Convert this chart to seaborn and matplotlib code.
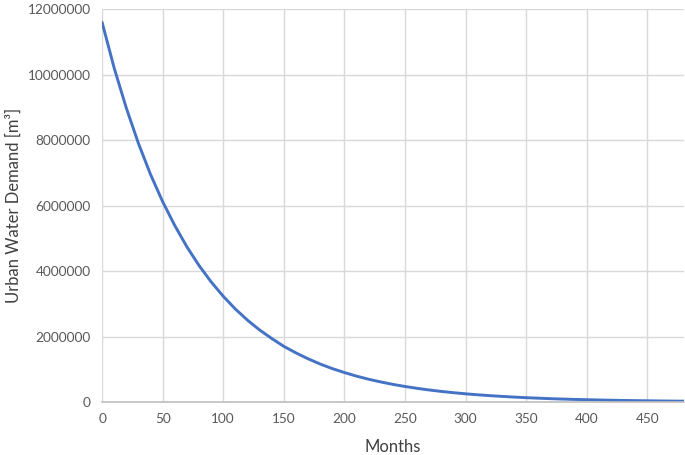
import matplotlib
matplotlib.use("Agg")
import matplotlib.pyplot as plt
import seaborn as sns
import pandas as pd

# values (every 10 months)
months = [0, 10, 20, 30, 40, 50, 60, 70, 80, 90,
          100, 110, 120, 130, 140, 150, 160, 170, 180, 190,
          200, 210, 220, 230, 240, 250, 260, 270, 280, 290,
          300, 310, 320, 330, 340, 350, 360, 370, 380, 390,
          400, 410, 420, 430, 440, 450, 460, 470, 480]
demand = [11600000, 10200000, 8980000, 7900000, 6950000, 6120000, 5390000, 4740000, 4170000, 3670000,
          3230000, 2840000, 2500000, 2200000, 1940000, 1700000, 1500000, 1320000, 1160000, 1020000,
          900000, 790000, 695000, 612000, 538000, 474000, 417000, 367000, 323000, 284000,
          250000, 220000, 194000, 171000, 150000, 132000, 116000, 102000, 90000, 79000,
          70000, 61000, 54000, 47000, 42000, 37000, 32000, 28000, 25000]

x_ticks = [0, 50, 100, 150, 200, 250, 300, 350, 400, 450]
y_ticks = [0, 2000000, 4000000, 6000000, 8000000, 10000000, 12000000]

df = pd.DataFrame({'Months': months, 'Demand': demand})

sns.set_style("white")
plt.rcParams['font.family'] = ['Lato', 'DejaVu Sans']

fig = plt.figure(figsize=(6.85, 4.55), dpi=100)
ax = fig.add_axes([0.149, 0.1165, 0.849, 0.8635])

sns.lineplot(data=df, x='Months', y='Demand', color='#4472C4', linewidth=2.1, ax=ax)

ax.set_xlim(0, 480)
ax.set_ylim(0, 12000000)
ax.set_xticks(x_ticks)
ax.set_yticks(y_ticks)
ax.set_yticklabels([str(v) for v in y_ticks])
ax.grid(True, color='#d9d9d9', linewidth=1)
ax.set_axisbelow(True)
for side in ['top', 'right', 'left']:
    ax.spines[side].set_visible(False)
ax.spines['bottom'].set_color('#bfbfbf')
ax.spines['bottom'].set_linewidth(1.2)
ax.tick_params(axis='both', length=0, labelsize=9.8, colors='#595959', pad=8)

ax.set_xlabel('Months', fontsize=12, color='#404040', labelpad=10)
ax.set_ylabel('Urban Water Demand [m³]', fontsize=12, color='#404040', labelpad=4)

fig.savefig('out.png', dpi=100)
